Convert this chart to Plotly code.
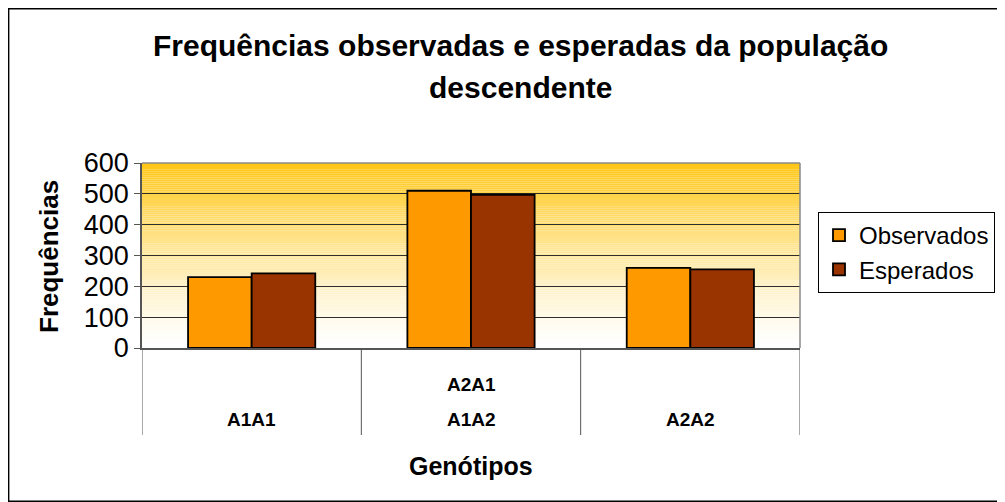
import plotly.graph_objects as go

genotipos = ["A1A1", "A1A2", "A2A2"]
genotipos_linha_superior = ["", "A2A1", ""]
observados = [230, 510, 260]
esperados = [242, 497, 255]
y_ticks = [0, 100, 200, 300, 400, 500, 600]

# page body has an 8px margin, so the figure sits at (8, 8)
W, H = 997, 494
L, R, T, B = 134, 205, 155, 154
pw, ph = W - L - R, H - T - B


def py(yfig):
    """figure pixel y (from top) -> paper y"""
    return (T + ph - yfig) / ph


def px(xfig):
    return (xfig - L) / pw


fig = go.Figure()
fig.add_trace(go.Bar(name="Observados", x=genotipos, y=observados,
                     marker=dict(color="#FF9900", line=dict(color="#000000", width=1.8))))
fig.add_trace(go.Bar(name="Esperados", x=genotipos, y=esperados,
                     marker=dict(color="#993300", line=dict(color="#000000", width=1.8))))

shapes = []
# vertical gradient background (gold top -> white bottom)
n = 90
top = (255, 198, 20)
for i in range(n):
    t = (i + 0.5) / n
    f = t ** 1.3
    c = tuple(int(round(255 + (tc - 255) * f)) for tc in top)
    shapes.append(dict(type="rect", xref="paper", yref="paper",
                       x0=0, x1=1, y0=i / n, y1=(i + 1) / n,
                       fillcolor="rgb(%d,%d,%d)" % c, line=dict(width=0), layer="below"))
# plot-area border (top/right gray)
shapes.append(dict(type="line", xref="paper", yref="paper", x0=0, x1=1, y0=1, y1=1,
                   line=dict(color="#8a8a8a", width=1.5)))
shapes.append(dict(type="line", xref="paper", yref="paper", x0=1, x1=1, y0=0, y1=1,
                   line=dict(color="#8a8a8a", width=1.5)))
# category dividers in the label band
for xb in [-0.5, 0.5, 1.5, 2.5]:
    shapes.append(dict(type="line", xref="x", yref="paper", x0=xb, x1=xb,
                       y0=0, y1=py(427), line=dict(color="#555555", width=1)))
# outer frame
shapes.append(dict(type="rect", xref="paper", yref="paper",
                   x0=px(0.7), x1=px(996.3), y0=py(493.3), y1=py(0.7),
                   line=dict(color="#000000", width=1.4), fillcolor="rgba(0,0,0,0)"))

annotations = []
for g, sup in zip(genotipos, genotipos_linha_superior):
    annotations.append(dict(x=g, xref="x", y=py(420), yref="paper", yanchor="bottom",
                            text="<b>%s</b>" % g, showarrow=False,
                            font=dict(size=19), yshift=-4))
    if sup:
        annotations.append(dict(x=g, xref="x", y=py(385), yref="paper", yanchor="bottom",
                                text="<b>%s</b>" % sup, showarrow=False,
                                font=dict(size=19), yshift=-4))
annotations.append(dict(x=0.5, xref="paper", y=py(458), yref="paper", yanchor="middle",
                        text="<b>Genótipos</b>", showarrow=False, font=dict(size=25)))
annotations.append(dict(x=px(512), xref="paper", y=py(37), yref="paper", yanchor="middle",
                        text="<b>Frequências observadas e esperadas da população</b>",
                        showarrow=False, font=dict(size=30)))
annotations.append(dict(x=px(512), xref="paper", y=py(79), yref="paper", yanchor="middle",
                        text="<b>descendente</b>", showarrow=False, font=dict(size=30)))
annotations.append(dict(x=px(41), xref="paper", y=py(249), yref="paper",
                        xanchor="center", yanchor="middle", textangle=-90,
                        text="<b>Frequências</b>", showarrow=False, font=dict(size=26)))

fig.update_layout(
    width=W, height=H,
    margin=dict(l=L, r=R, t=T, b=B, autoexpand=False),
    paper_bgcolor="white", plot_bgcolor="rgba(0,0,0,0)",
    font=dict(family="Liberation Sans, Arial, sans-serif", color="#000000"),
    barmode="group", bargap=0.42, bargroupgap=0,
    showlegend=True,
    legend=dict(x=px(810), y=py(204), xanchor="left", yanchor="top",
                bordercolor="#000000", borderwidth=1, bgcolor="white",
                font=dict(size=24), itemwidth=30, tracegroupgap=0),
    shapes=shapes,
    annotations=annotations,
)
fig.update_yaxes(range=[0, 600], tickvals=y_ticks, showgrid=True, gridcolor="#2e2e2e",
                 gridwidth=1, showline=True, linecolor="#555555", linewidth=1.5,
                 ticks="outside", ticklen=6, tickcolor="#555555",
                 tickfont=dict(size=27), zeroline=False)
fig.update_xaxes(showline=True, linecolor="#555555", linewidth=1.5,
                 showticklabels=False, ticks="", range=[-0.5, 2.5])
fig.write_html("out.html")
